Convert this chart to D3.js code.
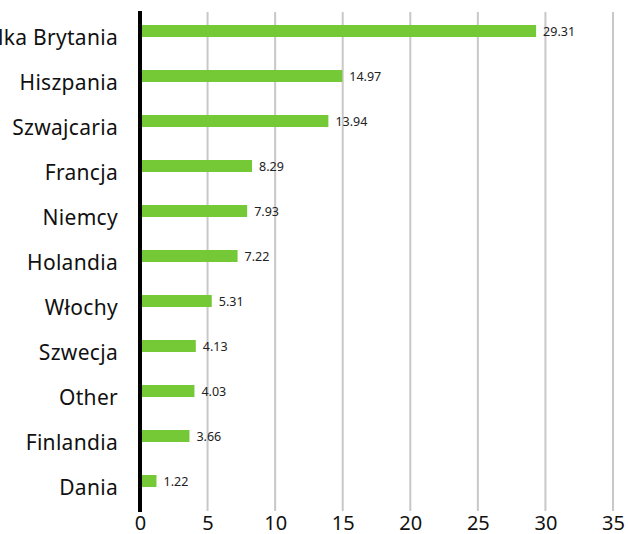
<!DOCTYPE html>
<html>
<head>
<meta charset="utf-8">
<script src="https://cdn.jsdelivr.net/npm/d3@7"></script>
<style>
  body { margin: 0; background: #fff; }
  svg { display: block; font-family: "Noto Sans", sans-serif; }
</style>
</head>
<body>
<svg id="chart" width="628" height="534"></svg>
<script>
const categories = ['Wielka Brytania', 'Hiszpania', 'Szwajcaria', 'Francja', 'Niemcy', 'Holandia', 'Włochy', 'Szwecja', 'Other', 'Finlandia', 'Dania']
const values = [29.31, 14.97, 13.94, 8.29, 7.93, 7.22, 5.31, 4.13, 4.03, 3.66, 1.22]
const ticks = [0, 5, 10, 15, 20, 25, 30, 35]

const data = categories.map((c, i) => ({ name: c, value: values[i] }))

const svg = d3.select('#chart')

const x = d3.scaleLinear().domain([0, 35]).range([140, 613])
const y = d3.scaleBand()
  .domain(categories)
  .range([12, 500])
  .paddingInner(0.7333)
  .paddingOuter(0.2889)

// gridlines
svg.append('g')
  .selectAll('line')
  .data(ticks.slice(1))
  .join('line')
  .attr('x1', d => x(d)).attr('x2', d => x(d))
  .attr('y1', 12).attr('y2', 511)
  .attr('stroke', '#c8c8c8')
  .attr('stroke-width', 2)

// bars
svg.append('g')
  .selectAll('rect')
  .data(data)
  .join('rect')
  .attr('x', x(0))
  .attr('y', d => y(d.name))
  .attr('width', d => x(d.value) - x(0))
  .attr('height', y.bandwidth())
  .attr('fill', '#76c936')

// value labels
svg.append('g')
  .selectAll('text')
  .data(data)
  .join('text')
  .attr('x', d => x(d.value) + 7)
  .attr('y', d => y(d.name) + y.bandwidth() / 2)
  .attr('dy', '0.38em')
  .attr('font-size', 12.5)
  .attr('fill', '#222')
  .text(d => d.value.toFixed(2))

// category labels (sit a bit below the bar centre, like the original)
svg.append('g')
  .selectAll('text')
  .data(data)
  .join('text')
  .attr('x', 118)
  .attr('y', d => y(d.name) + y.bandwidth() / 2 + 14)
  .attr('text-anchor', 'end')
  .attr('font-size', 21)
  .attr('letter-spacing', 0.3)
  .attr('fill', '#111')
  .text(d => d.name)

// zero line
svg.append('line')
  .attr('x1', x(0)).attr('x2', x(0))
  .attr('y1', 11).attr('y2', 512)
  .attr('stroke', '#000')
  .attr('stroke-width', 4)

// x ticks
const xAxis = d3.axisBottom(x).tickValues(ticks).tickSize(0).tickPadding(0)
const xg = svg.append('g')
  .attr('transform', `translate(0,${530})`)
  .call(xAxis)
xg.select('.domain').remove()
xg.selectAll('text')
  .attr('y', 0)
  .attr('dy', 0)
  .attr('font-size', 20)
  .attr('fill', '#111')
  .style('font-family', '"Noto Sans", sans-serif')
</script>
</body>
</html>
